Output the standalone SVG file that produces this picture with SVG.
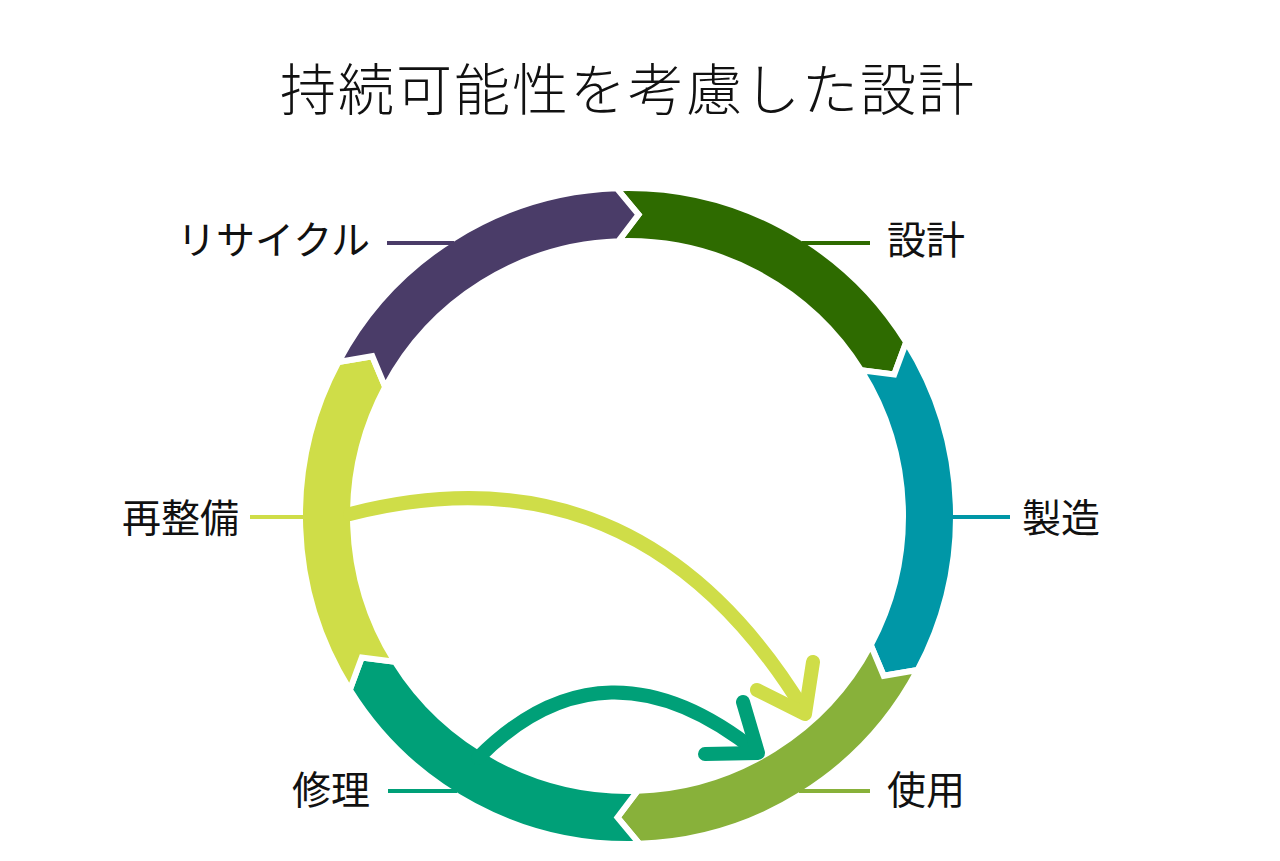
<svg xmlns="http://www.w3.org/2000/svg" width="1280" height="861" viewBox="0 0 1280 861">
<style>
.title{font-family:"Noto Sans CJK JP","Noto Sans",sans-serif;font-size:56px;font-weight:200;fill:#111;letter-spacing:2px}
.lbl{font-family:"Noto Sans CJK JP","Noto Sans",sans-serif;font-size:39px;fill:#111}
.seg{stroke:#fff;stroke-width:6;stroke-linejoin:miter}
.lead{stroke-width:4;fill:none}
.flow{fill:none;stroke-width:14;stroke-linecap:round;stroke-linejoin:round}
</style>
<defs>
<path id="segshape" d="M -11.447 -327.800 A 328 328 0 0 1 278.160 -173.813 L 266.209 -141.546 L 233.213 -145.728 A 275 275 0 0 0 -9.597 -274.833 L 10.522 -301.316 Z"/>
</defs>
<rect width="1280" height="861" fill="#fff"/>
<text class="title" x="628" y="110" text-anchor="middle">持続可能性を考慮した設計</text>
<g id="ring" transform="translate(628 516)">
<g id="design"><use href="#segshape" class="seg" fill="#2E6B00"/></g>
<g id="manufacturing"><use href="#segshape" class="seg" fill="#0097A7" transform="rotate(60)"/></g>
<g id="use"><use href="#segshape" class="seg" fill="#88B13A" transform="rotate(120)"/></g>
<g id="repair"><use href="#segshape" class="seg" fill="#00A078" transform="rotate(180)"/></g>
<g id="refurbish"><use href="#segshape" class="seg" fill="#CFDD48" transform="rotate(240)"/></g>
<g id="recycle"><use href="#segshape" class="seg" fill="#4A3C68" transform="rotate(300)"/></g>
</g>
<g id="connectors">
<line class="lead" x1="802" y1="243" x2="870" y2="243" stroke="#2E6B00"/>
<line class="lead" x1="951" y1="517" x2="1010" y2="517" stroke="#0097A7"/>
<line class="lead" x1="799" y1="791" x2="870" y2="791" stroke="#88B13A"/>
<line class="lead" x1="388" y1="791" x2="457" y2="791" stroke="#00A078"/>
<line class="lead" x1="250" y1="517" x2="305" y2="517" stroke="#CFDD48"/>
<line class="lead" x1="387" y1="243" x2="454" y2="243" stroke="#4A3C68"/>
<path class="flow" stroke="#CFDD48" d="M 350 514 Q 640 440 805 712"/>
<path class="flow" stroke="#CFDD48" d="M 757 690 L 805 714 L 813 662"/>
<path class="flow" stroke="#00A078" d="M 478 758 Q 605 630 757 752"/>
<path class="flow" stroke="#00A078" d="M 705 754 L 758 753 L 743 702"/>
</g>
<g id="labels">
<text class="lbl" x="887" y="254">設計</text>
<text class="lbl" x="1022" y="532">製造</text>
<text class="lbl" x="887" y="804">使用</text>
<text class="lbl" x="370" y="804" text-anchor="end">修理</text>
<text class="lbl" x="239" y="532" text-anchor="end">再整備</text>
<text class="lbl" x="370" y="254" text-anchor="end">リサイクル</text>
</g>
</svg>
